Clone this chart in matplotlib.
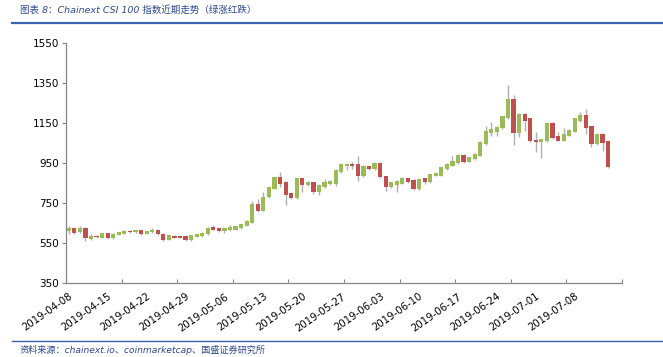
import numpy as np
import pandas as pd
import matplotlib
matplotlib.use('Agg')
import matplotlib.pyplot as plt
from matplotlib.lines import Line2D

# daily candles, 2019-04-08 .. 2019-07-14
start_date = '2019-04-08'
opens  = [610, 623, 603, 627, 570, 585, 577, 598, 575, 590,
          595, 612, 603, 613, 597, 603, 615, 597, 566, 587,
          585, 587, 563, 582, 583, 593, 628, 623, 610, 613,
          617, 623, 637, 650, 743, 712, 778, 820, 878, 855,
          800, 773, 873, 840, 853, 807, 828, 845, 845, 903,
          935, 945, 943, 887, 933, 920, 950, 883, 828, 840,
          847, 873, 865, 820, 873, 853, 887, 887, 920, 937,
          950, 990, 957, 970, 987, 1045, 1100, 1107, 1123, 1173,
          1270, 1100, 1195, 1173, 1067, 1053, 1058, 1150, 1083, 1062,
          1087, 1107, 1162, 1190, 1133, 1045, 1095, 1062]
highs  = [637, 626, 633, 630, 595, 588, 600, 601, 600, 606,
          614, 615, 616, 616, 612, 625, 618, 600, 590, 589,
          587, 589, 592, 595, 604, 628, 642, 626, 625, 640,
          636, 646, 663, 762, 770, 807, 832, 882, 907, 860,
          803, 877, 876, 862, 857, 843, 870, 865, 920, 950,
          950, 953, 987, 940, 936, 955, 953, 886, 856, 865,
          880, 876, 868, 875, 876, 897, 905, 932, 948, 985,
          993, 993, 982, 1000, 1060, 1137, 1157, 1135, 1187, 1340,
          1290, 1198, 1198, 1176, 1107, 1072, 1153, 1153, 1103, 1123,
          1120, 1176, 1207, 1220, 1136, 1098, 1098, 1065]
lows   = [595, 597, 600, 562, 563, 575, 575, 571, 572, 588,
          593, 601, 601, 590, 594, 601, 590, 562, 563, 575,
          575, 561, 561, 580, 581, 590, 614, 607, 600, 611,
          615, 621, 635, 648, 705, 708, 775, 818, 830, 740,
          770, 770, 807, 837, 795, 790, 825, 842, 835, 900,
          915, 920, 862, 880, 915, 917, 873, 812, 825, 807,
          845, 850, 815, 817, 845, 850, 885, 885, 917, 933,
          947, 952, 954, 967, 984, 1040, 1087, 1085, 1120, 1170,
          1040, 1080, 1112, 1055, 1003, 973, 1055, 1072, 1058, 1060,
          1085, 1104, 1153, 1095, 1028, 1042, 1012, 925]
closes = [627, 600, 627, 573, 587, 578, 598, 573, 597, 603,
          612, 603, 613, 593, 610, 617, 593, 565, 588, 577,
          577, 563, 590, 593, 602, 625, 617, 610, 623, 628,
          633, 643, 660, 743, 712, 782, 828, 878, 845, 790,
          773, 873, 840, 857, 807, 840, 857, 862, 917, 945,
          945, 935, 887, 937, 920, 950, 878, 828, 853, 860,
          877, 853, 820, 872, 853, 895, 902, 928, 945, 960,
          990, 957, 978, 995, 1057, 1112, 1120, 1132, 1183, 1270,
          1100, 1195, 1162, 1058, 1053, 1068, 1150, 1075, 1062, 1095,
          1117, 1173, 1190, 1123, 1045, 1095, 1050, 928]

n_days_axis = 100
label_step = 7
tick_step = 10
y_ticks = [350, 550, 750, 950, 1150, 1350, 1550]

title_text = '图表 8：Chainext CSI 100 指数近期走势（绿涨红跌）'
source_text = '资料来源：chainext.io、coinmarketcap、国盛证券研究所'

up_color = '#9BBB59'
down_color = '#C0504D'
wick_color = '#AFAFAF'
navy = '#2F4A8A'
rule_blue = '#3C64AE'

cjk = ['DejaVu Sans', 'Noto Sans CJK SC']

# build
o = np.array(opens, float)
h = np.array(highs, float)
l = np.array(lows, float)
c = np.array(closes, float)
x = np.arange(len(o))
dates = pd.date_range(start_date, periods=n_days_axis, freq='D')

fig = plt.figure(figsize=(6.63, 3.57), dpi=100)
ax = fig.add_axes([66/663, 1-283/357, (622-66)/663, (283-43)/357])

ax.vlines(x, l, h, color=wick_color, linewidth=1.0, zorder=1)
up = c >= o
body_h = np.maximum(np.abs(c - o), 3)
body_b = np.minimum(o, c)
ax.bar(x[up], body_h[up], bottom=body_b[up], width=0.75,
       color=up_color, linewidth=0, zorder=2)
ax.bar(x[~up], body_h[~up], bottom=body_b[~up], width=0.75,
       color=down_color, linewidth=0, zorder=2)

ax.set_xlim(-0.5, n_days_axis - 0.5)
ax.set_ylim(y_ticks[0], y_ticks[-1])

# y axis
ax.set_yticks(y_ticks)
ax.tick_params(axis='y', direction='out', length=3, width=0.8,
               color='#868686', labelsize=7.5, pad=2)

# x axis: labels weekly, tick marks every 10 days
label_pos = list(range(0, 92, label_step))
ax.set_xticks(label_pos)
ax.set_xticklabels([dates[i].strftime('%Y-%m-%d') for i in label_pos],
                   rotation=35, ha='right', rotation_mode='anchor')
ax.tick_params(axis='x', which='major', length=0, labelsize=7.3, pad=6)
ax.set_xticks(np.arange(-0.5, n_days_axis, tick_step), minor=True)
ax.tick_params(axis='x', which='minor', direction='in', length=3,
               width=0.8, color='#868686')

for side in ('top', 'right'):
    ax.spines[side].set_visible(False)
for side in ('left', 'bottom'):
    ax.spines[side].set_color('#868686')
    ax.spines[side].set_linewidth(0.9)

# header / footer
fig.text(20/663, 1-10/357, title_text, fontsize=6.8, style='italic',
         color=navy, family=cjk, va='center', ha='left')
fig.add_artist(Line2D([12/663, 1.0], [1-23/357, 1-23/357],
                      color=rule_blue, linewidth=1.6))
fig.add_artist(Line2D([12/663, 1.0], [1-341/357, 1-341/357],
                      color=rule_blue, linewidth=1.0))
fig.text(20/663, 1-350/357, source_text, fontsize=6.6, style='italic',
         color=navy, family=cjk, va='center', ha='left')

fig.savefig('out.png', dpi=100)
